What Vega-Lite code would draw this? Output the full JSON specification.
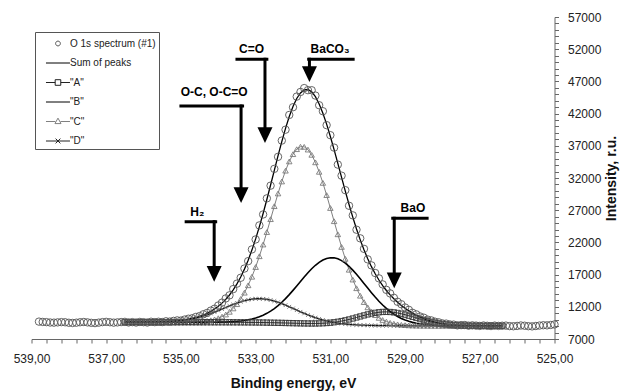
{
"$schema": "https://vega.github.io/schema/vega-lite/v6.json",
"width": 523, "height": 322,
"autosize": {"type": "none"},
"padding": {"left": 31.5, "top": 17, "right": 72.5, "bottom": 53},
"background": "white",
"config": {"view": {"stroke": null}, "font": "Liberation Sans", "axis": {"labelOverlap": false, "labelBound": false, "labelFlush": false, "grid": false}},
"datasets": {
"xps": [
{"E":538.8,"obs":9700},{"E":538.7,"obs":9650},{"E":538.6,"obs":9620},{"E":538.5,"obs":9560},{"E":538.4,"obs":9540},{"E":538.3,"obs":9580},{"E":538.2,"obs":9620},{"E":538.1,"obs":9600},{"E":538.0,"obs":9520},{"E":537.9,"obs":9490},{"E":537.8,"obs":9530},{"E":537.7,"obs":9600},{"E":537.6,"obs":9640},{"E":537.5,"obs":9580},{"E":537.4,"obs":9510},{"E":537.3,"obs":9470},{"E":537.2,"obs":9540},{"E":537.1,"obs":9620},{"E":537.0,"obs":9660},{"E":536.9,"obs":9600},{"E":536.8,"obs":9540},{"E":536.7,"obs":9580},{"E":536.6,"obs":9630},
{"E":536.5,"obs":9660,"sum":9602,"A":9600,"B":9600,"C":9600,"D":9602},
{"E":536.4,"obs":9570,"sum":9603,"A":9600,"B":9600,"C":9600,"D":9603},
{"E":536.3,"obs":9620,"sum":9604,"A":9600,"B":9600,"C":9600,"D":9604},
{"E":536.2,"obs":9560,"sum":9606,"A":9600,"B":9600,"C":9600,"D":9606},
{"E":536.1,"obs":9650,"sum":9609,"A":9600,"B":9600,"C":9600,"D":9609},
{"E":536.0,"obs":9610,"sum":9613,"A":9600,"B":9600,"C":9600,"D":9613},
{"E":535.9,"obs":9560,"sum":9618,"A":9600,"B":9600,"C":9600,"D":9618},
{"E":535.8,"obs":9680,"sum":9626,"A":9600,"B":9600,"C":9600,"D":9626},
{"E":535.7,"obs":9620,"sum":9636,"A":9600,"B":9600,"C":9600,"D":9636},
{"E":535.6,"obs":9680,"sum":9650,"A":9600,"B":9600,"C":9600,"D":9650},
{"E":535.5,"obs":9630,"sum":9669,"A":9600,"B":9600,"C":9601,"D":9668},
{"E":535.4,"obs":9750,"sum":9693,"A":9600,"B":9600,"C":9601,"D":9692},
{"E":535.3,"obs":9700,"sum":9725,"A":9600,"B":9600,"C":9602,"D":9723},
{"E":535.2,"obs":9810,"sum":9767,"A":9600,"B":9600,"C":9604,"D":9763},
{"E":535.1,"obs":9890,"sum":9819,"A":9600,"B":9600,"C":9607,"D":9812},
{"E":535.0,"obs":9860,"sum":9884,"A":9600,"B":9600,"C":9611,"D":9873},
{"E":534.9,"obs":10020,"sum":9965,"A":9600,"B":9600,"C":9617,"D":9948},
{"E":534.8,"obs":10150,"sum":10066,"A":9600,"B":9600,"C":9627,"D":10039},
{"E":534.7,"obs":10220,"sum":10190,"A":9600,"B":9601,"C":9643,"D":10146},
{"E":534.6,"obs":10430,"sum":10337,"A":9599,"B":9601,"C":9664,"D":10270},
{"E":534.5,"obs":10560,"sum":10516,"A":9599,"B":9602,"C":9698,"D":10414},
{"E":534.4,"obs":10840,"sum":10731,"A":9599,"B":9604,"C":9747,"D":10578},
{"E":534.3,"obs":11050,"sum":10987,"A":9600,"B":9606,"C":9817,"D":10761},
{"E":534.2,"obs":11410,"sum":11290,"A":9599,"B":9610,"C":9916,"D":10962},
{"E":534.1,"obs":11700,"sum":11648,"A":9598,"B":9615,"C":10051,"D":11178},
{"E":534.0,"obs":12200,"sum":12070,"A":9597,"B":9623,"C":10234,"D":11407},
{"E":533.9,"obs":12650,"sum":12569,"A":9597,"B":9635,"C":10481,"D":11647},
{"E":533.8,"obs":13300,"sum":13151,"A":9595,"B":9650,"C":10803,"D":11888},
{"E":533.7,"obs":13780,"sum":13835,"A":9594,"B":9673,"C":11221,"D":12129},
{"E":533.6,"obs":14750,"sum":14632,"A":9592,"B":9704,"C":11750,"D":12362},
{"E":533.5,"obs":15600,"sum":15557,"A":9590,"B":9746,"C":12410,"D":12581},
{"E":533.4,"obs":16510,"sum":16627,"A":9587,"B":9803,"C":13219,"D":12779},
{"E":533.3,"obs":17940,"sum":17852,"A":9584,"B":9878,"C":14192,"D":12950},
{"E":533.2,"obs":19090,"sum":19243,"A":9580,"B":9976,"C":15339,"D":13088},
{"E":533.1,"obs":20910,"sum":20807,"A":9575,"B":10101,"C":16667,"D":13189},
{"E":533.0,"obs":22460,"sum":22542,"A":9570,"B":10260,"C":18174,"D":13248},
{"E":532.9,"obs":24640,"sum":24442,"A":9563,"B":10456,"C":19849,"D":13263},
{"E":532.8,"obs":26340,"sum":26489,"A":9556,"B":10697,"C":21670,"D":13234},
{"E":532.7,"obs":28840,"sum":28658,"A":9547,"B":10987,"C":23604,"D":13161},
{"E":532.6,"obs":30810,"sum":30909,"A":9537,"B":11331,"C":25607,"D":13045},
{"E":532.5,"obs":33420,"sum":33197,"A":9526,"B":11730,"C":27625,"D":12891},
{"E":532.4,"obs":35290,"sum":35467,"A":9514,"B":12189,"C":29598,"D":12705},
{"E":532.3,"obs":37810,"sum":37659,"A":9501,"B":12705,"C":31460,"D":12490},
{"E":532.2,"obs":39500,"sum":39704,"A":9486,"B":13275,"C":33139,"D":12253},
{"E":532.1,"obs":41790,"sum":41541,"A":9472,"B":13895,"C":34573,"D":12002},
{"E":532.0,"obs":42990,"sum":43105,"A":9457,"B":14553,"C":35700,"D":11742},
{"E":531.9,"obs":44640,"sum":44344,"A":9443,"B":15237,"C":36474,"D":11480},
{"E":531.8,"obs":45360,"sum":45212,"A":9430,"B":15933,"C":36859,"D":11220},
{"E":531.7,"obs":45960,"sum":45680,"A":9419,"B":16622,"C":36839,"D":10970},
{"E":531.6,"obs":45640,"sum":45736,"A":9412,"B":17286,"C":36413,"D":10732},
{"E":531.5,"obs":45630,"sum":45376,"A":9408,"B":17902,"C":35598,"D":10509},
{"E":531.4,"obs":44800,"sum":44622,"A":9412,"B":18450,"C":34431,"D":10304},
{"E":531.3,"obs":43300,"sum":43504,"A":9424,"B":18912,"C":32959,"D":10118},
{"E":531.2,"obs":42370,"sum":42067,"A":9446,"B":19270,"C":31242,"D":9952},
{"E":531.1,"obs":40210,"sum":40362,"A":9481,"B":19510,"C":29345,"D":9806},
{"E":531.0,"obs":38650,"sum":38453,"A":9531,"B":19623,"C":27340,"D":9679},
{"E":530.9,"obs":36720,"sum":36398,"A":9597,"B":19603,"C":25290,"D":9568},
{"E":530.8,"obs":34080,"sum":34260,"A":9680,"B":19451,"C":23258,"D":9474},
{"E":530.7,"obs":32360,"sum":32096,"A":9781,"B":19172,"C":21297,"D":9395},
{"E":530.6,"obs":30110,"sum":29958,"A":9900,"B":18776,"C":19453,"D":9330},
{"E":530.5,"obs":27690,"sum":27887,"A":10035,"B":18276,"C":17755,"D":9274},
{"E":530.4,"obs":26200,"sum":25923,"A":10184,"B":17692,"C":16229,"D":9229},
{"E":530.3,"obs":23970,"sum":24086,"A":10342,"B":17042,"C":14884,"D":9193},
{"E":530.2,"obs":22630,"sum":22394,"A":10504,"B":16345,"C":13721,"D":9163},
{"E":530.1,"obs":21000,"sum":20855,"A":10664,"B":15626,"C":12735,"D":9139},
{"E":530.0,"obs":19370,"sum":19469,"A":10816,"B":14901,"C":11914,"D":9120},
{"E":529.9,"obs":18430,"sum":18232,"A":10952,"B":14191,"C":11245,"D":9105},
{"E":529.8,"obs":17250,"sum":17133,"A":11065,"B":13508,"C":10707,"D":9093},
{"E":529.7,"obs":16420,"sum":16159,"A":11150,"B":12867,"C":10283,"D":9084},
{"E":529.6,"obs":15480,"sum":15297,"A":11201,"B":12276,"C":9954,"D":9076},
{"E":529.5,"obs":14630,"sum":14533,"A":11216,"B":11742,"C":9703,"D":9070},
{"E":529.4,"obs":14080,"sum":13855,"A":11194,"B":11268,"C":9516,"D":9066},
{"E":529.3,"obs":13400,"sum":13248,"A":11135,"B":10854,"C":9377,"D":9062},
{"E":529.2,"obs":12780,"sum":12702,"A":11043,"B":10498,"C":9276,"D":9059},
{"E":529.1,"obs":12400,"sum":12210,"A":10921,"B":10197,"C":9204,"D":9056},
{"E":529.0,"obs":11890,"sum":11769,"A":10777,"B":9948,"C":9154,"D":9055},
{"E":528.9,"obs":11530,"sum":11369,"A":10614,"B":9743,"C":9118,"D":9053},
{"E":528.8,"obs":11070,"sum":11013,"A":10444,"B":9579,"C":9096,"D":9053},
{"E":528.7,"obs":10830,"sum":10692,"A":10269,"B":9448,"C":9079,"D":9052},
{"E":528.6,"obs":10500,"sum":10409,"A":10098,"B":9345,"C":9068,"D":9051},
{"E":528.5,"obs":10310,"sum":10162,"A":9935,"B":9267,"C":9062,"D":9051},
{"E":528.4,"obs":10010,"sum":9947,"A":9784,"B":9207,"C":9058,"D":9051},
{"E":528.3,"obs":9890,"sum":9764,"A":9648,"B":9162,"C":9054,"D":9050},
{"E":528.2,"obs":9690,"sum":9610,"A":9529,"B":9129,"C":9052,"D":9050},
{"E":528.1,"obs":9590,"sum":9483,"A":9427,"B":9105,"C":9051,"D":9050},
{"E":528.0,"obs":9420,"sum":9379,"A":9341,"B":9088,"C":9050,"D":9050},
{"E":527.9,"obs":9390,"sum":9297,"A":9271,"B":9076,"C":9050,"D":9050},
{"E":527.8,"obs":9260,"sum":9232,"A":9215,"B":9067,"C":9050,"D":9050},
{"E":527.7,"obs":9240,"sum":9182,"A":9171,"B":9061,"C":9050,"D":9050},
{"E":527.6,"obs":9120,"sum":9144,"A":9137,"B":9057,"C":9050,"D":9050},
{"E":527.5,"obs":9160,"sum":9116,"A":9111,"B":9055,"C":9050,"D":9050},
{"E":527.4,"obs":9170,"sum":9096,"A":9093,"B":9053,"C":9050,"D":9050},
{"E":527.3,"obs":9070,"sum":9081,"A":9079,"B":9052,"C":9050,"D":9050},
{"E":527.2,"obs":9120,"sum":9071,"A":9070,"B":9051,"C":9050,"D":9050},
{"E":527.1,"obs":9080,"sum":9063,"A":9063,"B":9050,"C":9050,"D":9050},
{"E":527.0,"obs":9030,"sum":9058,"A":9058,"B":9050,"C":9050,"D":9050},
{"E":526.9,"obs":9100,"sum":9055,"A":9055,"B":9050,"C":9050,"D":9050},
{"E":526.8,"obs":9050,"sum":9053,"A":9053,"B":9050,"C":9050,"D":9050},
{"E":526.7,"obs":9010,"sum":9052,"A":9052,"B":9050,"C":9050,"D":9050},
{"E":526.6,"obs":9080,"sum":9051,"A":9051,"B":9050,"C":9050,"D":9050},
{"E":526.5,"obs":9030,"sum":9051,"A":9051,"B":9050,"C":9050,"D":9050},
{"E":526.4,"obs":9060,"sum":9050,"A":9050,"B":9050,"C":9050,"D":9050},
{"E":526.3,"obs":9080},{"E":526.2,"obs":9000},{"E":526.1,"obs":8980},{"E":526.0,"obs":9030},{"E":525.9,"obs":9100},{"E":525.8,"obs":9060},{"E":525.7,"obs":8990},{"E":525.6,"obs":8960},{"E":525.5,"obs":9020},{"E":525.4,"obs":9090},{"E":525.3,"obs":9140},{"E":525.2,"obs":9120},{"E":525.1,"obs":9180},{"E":525.0,"obs":9260}
],
"notes": [
{"label":"C=O","tx":533.11,"ty":52040,"hx1":533.50,"hx2":532.70,"hy":50440,"vx":532.75,"by":39920,"tipy":37440},
{"label":"BaCO₃","tx":531.01,"ty":52040,"hx1":531.58,"hx2":530.39,"hy":50440,"vx":531.56,"by":49400,"tipy":46910},
{"label":"O-C, O-C=O","tx":534.11,"ty":45280,"hx1":535.00,"hx2":533.35,"hy":43180,"vx":533.39,"by":30610,"tipy":28120},
{"label":"H₂","tx":534.56,"ty":26720,"hx1":534.86,"hx2":534.07,"hy":25220,"vx":534.11,"by":18230,"tipy":15900},
{"label":"BaO","tx":528.79,"ty":27340,"hx1":529.33,"hx2":528.41,"hy":25750,"vx":529.29,"by":17450,"tipy":14870}
]
},
"layer": [
{
"data": {"name": "xps"},
"mark": {"type": "line", "color": "#808080", "strokeWidth": 1},
"encoding": {
"x": {"field": "E", "type": "quantitative",
 "scale": {"domain": [525, 539], "reverse": true, "nice": false, "zero": false},
 "axis": {"title": "Binding energy, eV", "tickCount": 200,
  "values": [539,538.6,538.2,537.8,537.4,537,536.6,536.2,535.8,535.4,535,534.6,534.2,533.8,533.4,533,532.6,532.2,531.8,531.4,531,530.6,530.2,529.8,529.4,529,528.6,528.2,527.8,527.4,527,526.6,526.2,525.8,525.4,525],
  "labelExpr": "abs((datum.value - 525) - 2 * round((datum.value - 525) / 2)) < 0.01 ? replace(format(datum.value, '.2f'), '.', ',') : ''",
  "labelOverlap": false, "labelBound": false, "labelFlush": false,
  "grid": false, "tickSize": 4, "labelPadding": 10,
  "labelFont": "Liberation Sans", "labelFontSize": 12, "labelColor": "#222",
  "domainColor": "#666", "tickColor": "#666",
  "titleFont": "Liberation Sans", "titleFontSize": 14, "titleFontWeight": "bold", "titleColor": "#111",
  "titleY": 44, "titleBaseline": "middle",
  "encode": {"ticks": {"update": {
   "y": {"signal": "abs((datum.value - 525) - 2 * round((datum.value - 525) / 2)) < 0.01 ? -4 : -2"},
   "y2": {"signal": "abs((datum.value - 525) - 2 * round((datum.value - 525) / 2)) < 0.01 ? 4 : 2"}}}}
 }},
"y": {"field": "C", "type": "quantitative",
 "scale": {"domain": [7000, 57000], "nice": false, "zero": false},
 "axis": {"title": "Intensity, r.u.", "orient": "right", "tickCount": 200,
  "values": [7000,8000,9000,10000,11000,12000,13000,14000,15000,16000,17000,18000,19000,20000,21000,22000,23000,24000,25000,26000,27000,28000,29000,30000,31000,32000,33000,34000,35000,36000,37000,38000,39000,40000,41000,42000,43000,44000,45000,46000,47000,48000,49000,50000,51000,52000,53000,54000,55000,56000,57000],
  "labelExpr": "(datum.value - 7000) % 5000 == 0 ? format(datum.value, 'd') : ''",
  "labelOverlap": false, "labelBound": false, "labelFlush": false,
  "grid": false, "tickSize": 4, "labelPadding": 9,
  "labelFont": "Liberation Sans", "labelFontSize": 12, "labelColor": "#222",
  "domainColor": "#666", "tickColor": "#666",
  "titleFont": "Liberation Sans", "titleFontSize": 14, "titleFontWeight": "bold", "titleColor": "#111",
  "titleAngle": 270, "titleX": 57, "titleY": 161, "titleAlign": "center", "titleBaseline": "middle",
  "encode": {"ticks": {"update": {
   "x": {"signal": "(datum.value - 7000) % 5000 == 0 ? -3 : -2"},
   "x2": {"signal": "(datum.value - 7000) % 5000 == 0 ? 3 : 2"}}}}
 }}
}
},
{"data": {"name": "xps"}, "mark": {"type": "line", "color": "#222", "strokeWidth": 1},
 "encoding": {"x": {"field": "E", "type": "quantitative"}, "y": {"field": "A", "type": "quantitative"}}},
{"data": {"name": "xps"}, "mark": {"type": "line", "color": "#000", "strokeWidth": 1.6},
 "encoding": {"x": {"field": "E", "type": "quantitative"}, "y": {"field": "B", "type": "quantitative"}}},
{"data": {"name": "xps"}, "mark": {"type": "line", "color": "#111", "strokeWidth": 1.3},
 "encoding": {"x": {"field": "E", "type": "quantitative"}, "y": {"field": "D", "type": "quantitative"}}},
{"data": {"name": "xps"}, "mark": {"type": "line", "color": "#000", "strokeWidth": 1.3},
 "encoding": {"x": {"field": "E", "type": "quantitative"}, "y": {"field": "sum", "type": "quantitative"}}},
{"data": {"name": "xps"}, "mark": {"type": "point", "shape": "triangle-up", "filled": false, "size": 30, "color": "#7a7a7a", "strokeWidth": 0.9, "opacity": 1},
 "encoding": {"x": {"field": "E", "type": "quantitative"}, "y": {"field": "C", "type": "quantitative"}}},
{"data": {"name": "xps"}, "mark": {"type": "point", "shape": "square", "filled": false, "size": 28, "color": "#333", "strokeWidth": 0.9, "opacity": 1},
 "encoding": {"x": {"field": "E", "type": "quantitative"}, "y": {"field": "A", "type": "quantitative"}}},
{"data": {"name": "xps"}, "mark": {"type": "point", "shape": "M-1,-1L1,1M-1,1L1,-1", "filled": false, "size": 14, "color": "#666", "strokeWidth": 0.8, "opacity": 1},
 "encoding": {"x": {"field": "E", "type": "quantitative"}, "y": {"field": "D", "type": "quantitative"}}},
{"data": {"name": "xps"}, "mark": {"type": "point", "shape": "circle", "filled": false, "size": 55, "color": "#555", "strokeWidth": 0.9, "opacity": 1},
 "encoding": {"x": {"field": "E", "type": "quantitative"}, "y": {"field": "obs", "type": "quantitative"}}},
{"data": {"name": "xps"},
 "transform": [{"fold": ["obs", "sum", "A", "B", "C", "D"], "as": ["series", "value"]}, {"filter": "false"}],
 "mark": {"type": "point", "filled": false, "opacity": 1},
 "encoding": {
  "x": {"field": "E", "type": "quantitative"},
  "y": {"field": "value", "type": "quantitative"},
  "shape": {"field": "series", "type": "nominal",
   "scale": {"domain": ["obs", "sum", "A", "B", "C", "D"],
    "range": ["M1.135,0A0.3,0.3,0,1,1,1.735,0A0.3,0.3,0,1,1,1.135,0Z",
     "M-0.065,0L2.935,0",
     "M-0.065,0L1.085,0M1.785,0L2.935,0M1.085,-0.35L1.785,-0.35L1.785,0.35L1.085,0.35Z",
     "M-0.065,0L2.935,0",
     "M-0.065,0L1.115,0M1.755,0L2.935,0M1.435,-0.42L1.815,0.26L1.055,0.26Z",
     "M-0.065,0L2.935,0M1.135,-0.3L1.735,0.3M1.135,0.3L1.735,-0.3"]},
   "legend": {"title": null, "orient": "none", "legendX": 3.5, "legendY": 15,
    "labelExpr": "datum.value == 'obs' ? 'O 1s spectrum (#1)\u00a0\u00a0\u00a0' : datum.value == 'sum' ? 'Sum of peaks' : '\"' + datum.value + '\"'",
    "symbolSize": 256, "symbolStrokeWidth": 1, "labelFont": "Liberation Sans", "labelFontSize": 10, "labelColor": "#222",
    "padding": 3, "strokeColor": "#555", "fillColor": "white", "rowPadding": 5.5, "labelOffset": 15}},
  "color": {"field": "series", "type": "nominal",
   "scale": {"domain": ["obs", "sum", "A", "B", "C", "D"], "range": ["#555", "#000", "#222", "#000", "#808080", "#222"]},
   "legend": {"title": null, "orient": "none", "legendX": 3.5, "legendY": 15,
    "labelExpr": "datum.value == 'obs' ? 'O 1s spectrum (#1)\u00a0\u00a0\u00a0' : datum.value == 'sum' ? 'Sum of peaks' : '\"' + datum.value + '\"'",
    "symbolSize": 256, "symbolStrokeWidth": 1, "labelFont": "Liberation Sans", "labelFontSize": 10, "labelColor": "#222",
    "padding": 3, "strokeColor": "#555", "fillColor": "white", "rowPadding": 5.5, "labelOffset": 15}}
 }},
{"data": {"name": "notes"}, "mark": {"type": "rule", "color": "#000", "strokeWidth": 3, "strokeCap": "square"},
 "encoding": {"x": {"field": "hx1", "type": "quantitative"}, "x2": {"field": "hx2"}, "y": {"field": "hy", "type": "quantitative"}}},
{"data": {"name": "notes"}, "mark": {"type": "rule", "color": "#000", "strokeWidth": 3, "strokeCap": "square"},
 "encoding": {"x": {"field": "vx", "type": "quantitative"}, "y": {"field": "hy", "type": "quantitative"}, "y2": {"field": "by"}}},
{"data": {"name": "notes"}, "mark": {"type": "point", "shape": "M-1,-2.1L1,-2.1L0,0Z", "filled": true, "size": 225, "color": "#000", "opacity": 1, "strokeWidth": 0},
 "encoding": {"x": {"field": "vx", "type": "quantitative"}, "y": {"field": "tipy", "type": "quantitative"}}},
{"data": {"name": "notes"}, "mark": {"type": "text", "font": "Liberation Sans", "fontSize": 12, "fontWeight": "bold", "color": "#000", "align": "center", "baseline": "middle"},
 "encoding": {"x": {"field": "tx", "type": "quantitative"}, "y": {"field": "ty", "type": "quantitative"}, "text": {"field": "label"}}}
]
}
